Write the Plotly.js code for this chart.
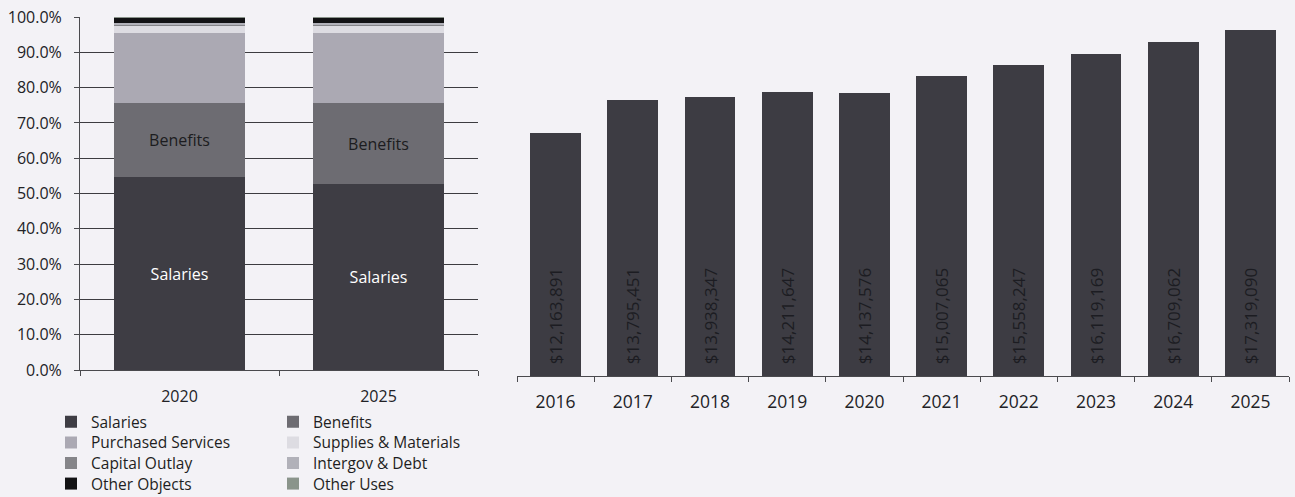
<!DOCTYPE html>
<html>
<head>
<meta charset="utf-8">
<script src="https://cdn.plot.ly/plotly-3.0.1.min.js"></script>
<style>html,body{margin:0;padding:0;background:#f3f2f6;}#chart{width:1295px;height:497px;}</style>
</head>
<body>
<div id="chart"></div>
<script>
// ---- Left chart: share of spending by object (percent) ----
const leftYears = ['2020', '2025'];
const seriesNames = ['Salaries', 'Benefits', 'Purchased Services', 'Supplies & Materials',
                     'Capital Outlay', 'Intergov & Debt', 'Other Objects', 'Other Uses'];
const salaries = [54.6, 52.6];
const benefits = [20.9, 22.9];
const purchasedServices = [19.9, 19.9];
const suppliesMaterials = [2.0, 2.0];
const capitalOutlay = [0.4, 0.4];
const intergovDebt = [0.4, 0.4];
const otherObjects = [1.4, 1.4];
const otherUses = [0.4, 0.4];
const leftTicks = [0, 10, 20, 30, 40, 50, 60, 70, 80, 90, 100];
const leftTickText = ['0.0%', '10.0%', '20.0%', '30.0%', '40.0%', '50.0%',
                      '60.0%', '70.0%', '80.0%', '90.0%', '100.0%'];

// ---- Right chart: total expenditures by year ----
const rightYears = ['2016', '2017', '2018', '2019', '2020', '2021', '2022', '2023', '2024', '2025'];
const totals = [12163891, 13795451, 13938347, 14211647, 14137576,
                15007065, 15558247, 16119169, 16709062, 17319090];

const seriesValues = [salaries, benefits, purchasedServices, suppliesMaterials,
                      capitalOutlay, intergovDebt, otherObjects, otherUses];
const seriesColors = ['#3e3d44', '#6d6c72', '#aba9b3', '#dddce2',
                      '#858589', '#b1b1b9', '#121214', '#8a948b'];
const segLabels = {0: {text: 'Salaries', color: '#ffffff'}, 1: {text: 'Benefits', color: '#1c1c20'}};

const FONT = 'Open Sans, Lato, sans-serif';
const W = 1295, H = 497;

const traces = [];
seriesNames.forEach((name, i) => {
  const lab = segLabels[i];
  const legendId = i === 0 ? 'legend' : 'legend' + (i + 1);
  traces.push({
    type: 'bar', name: name, x: leftYears, y: seriesValues[i],
    xaxis: 'x', yaxis: 'y', legend: legendId,
    marker: {color: seriesColors[i]},
    text: lab ? leftYears.map(() => lab.text) : null,
    textposition: lab ? 'inside' : 'none',
    insidetextanchor: 'middle', textangle: 0,
    textfont: lab ? {family: FONT, size: 16, color: lab.color} : undefined,
    hoverinfo: 'none'
  });
});

traces.push({
  type: 'bar', x: rightYears, y: totals, xaxis: 'x2', yaxis: 'y2', showlegend: false,
  marker: {color: '#3d3c43'},
  text: totals.map(v => '\u00a0\u00a0$' + v.toLocaleString('en-US')),
  textposition: 'inside', insidetextanchor: 'start', textangle: -90,
  constraintext: 'none', cliponaxis: false,
  textfont: {family: FONT, size: 17, color: '#1c1c22'},
  hoverinfo: 'none'
});

const layout = {
  width: W, height: H,
  margin: {l: 0, r: 0, t: 0, b: 0, autoexpand: false},
  paper_bgcolor: '#f3f2f6', plot_bgcolor: 'rgba(0,0,0,0)',
  font: {family: FONT, color: '#2a2a2e'},
  barmode: 'stack', bargap: 0.34,
  xaxis: {
    domain: [80 / W, 478 / W], anchor: 'y', type: 'category',
    showline: true, linecolor: '#4a4a4e', linewidth: 1,
    ticks: 'outside', tickson: 'boundaries', ticklen: 5, tickcolor: '#4a4a4e',
    tickfont: {size: 16, color: '#222226'}, ticklabelstandoff: 12
  },
  yaxis: {
    domain: [(H - 370) / H, (H - 17) / H], anchor: 'x', range: [0, 100],
    tickmode: 'array', tickvals: leftTicks, ticktext: leftTickText,
    showline: true, linecolor: '#4a4a4e', linewidth: 1,
    ticks: 'outside', ticklen: 5, tickcolor: '#4a4a4e',
    showgrid: true, gridcolor: '#3c3c40', gridwidth: 1, zeroline: false,
    tickfont: {size: 16, color: '#222226'}, ticklabelstandoff: 9
  },
  xaxis2: {
    domain: [517 / W, 1289 / W], anchor: 'y2', type: 'category',
    showline: true, linecolor: '#4a4a4e', linewidth: 1,
    ticks: 'outside', tickson: 'boundaries', ticklen: 5, tickcolor: '#4a4a4e',
    tickfont: {size: 17.5, color: '#222226'}, ticklabelstandoff: 10
  },
  yaxis2: {
    domain: [(H - 376) / H, (H - 16) / H], anchor: 'x2', range: [0, 18000000],
    visible: false, showgrid: false, zeroline: false
  }
};

// legend placement: two columns, four rows (each entry its own legend box)
const colLeft = [51, 273];
const rowCenter = [421.7, 442.3, 463, 483.5];
seriesNames.forEach((name, i) => {
  const id = i === 0 ? 'legend' : 'legend' + (i + 1);
  const col = i % 2, row = Math.floor(i / 2);
  layout[id] = {
    x: colLeft[col] / W, y: 1 - (rowCenter[row] - 16.5) / H,
    xanchor: 'left', yanchor: 'top', orientation: 'v',
    bgcolor: 'rgba(0,0,0,0)', borderwidth: 0, traceorder: 'normal',
    font: {family: FONT, size: 15.5, color: '#1e1e22'}
  };
});

Plotly.newPlot('chart', traces, layout, {staticPlot: true, displayModeBar: false});
</script>
</body>
</html>
